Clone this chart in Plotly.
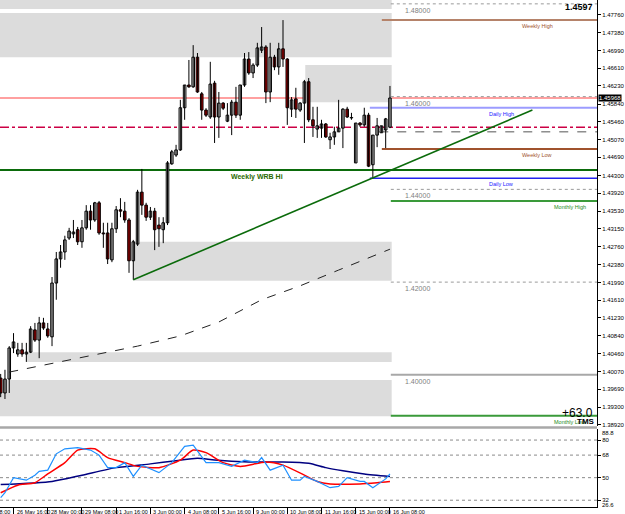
import plotly.graph_objects as go

# ---------------- data ----------------
bar_idx = list(range(92))
opens = [1.3993, 1.3961, 1.3991, 1.4058, 1.4045, 1.4054, 1.4045, 1.4049, 1.4097, 1.4075,
         1.4112, 1.4099, 1.4082, 1.4198, 1.4250, 1.4265, 1.4295, 1.4304, 1.4313, 1.4287,
         1.4317, 1.4353, 1.4334, 1.4371, 1.4306, 1.4306, 1.4248, 1.4315, 1.4356, 1.4353,
         1.4334, 1.4246, 1.4282, 1.4394, 1.4366, 1.4340, 1.4353, 1.4323, 1.4313, 1.4328,
         1.4455, 1.4474, 1.4485, 1.4576, 1.4625, 1.4621, 1.4685, 1.4606, 1.4571, 1.4556,
         1.4629, 1.4556, 1.4586, 1.4547, 1.4560, 1.4588, 1.4560, 1.4625, 1.4681, 1.4651,
         1.4668, 1.4700, 1.4707, 1.4610, 1.4685, 1.4664, 1.4703, 1.4681, 1.4573, 1.4595,
         1.4571, 1.4586, 1.4632, 1.4550, 1.4530, 1.4532, 1.4541, 1.4507, 1.4513, 1.4524,
         1.4532, 1.4573, 1.4554, 1.4457, 1.4543, 1.4539, 1.4560, 1.4453, 1.4517, 1.4522,
         1.4528, 1.4534]
highs = [1.4002, 1.4011, 1.4062, 1.4090, 1.4069, 1.4069, 1.4069, 1.4105, 1.4112, 1.4125,
         1.4123, 1.4112, 1.4211, 1.4265, 1.4280, 1.4300, 1.4317, 1.4334, 1.4319, 1.4334,
         1.4366, 1.4366, 1.4373, 1.4375, 1.4328, 1.4328, 1.4328, 1.4364, 1.4381, 1.4373,
         1.4338, 1.4291, 1.4399, 1.4444, 1.4371, 1.4362, 1.4360, 1.4340, 1.4340, 1.4461,
         1.4485, 1.4496, 1.4593, 1.4625, 1.4679, 1.4711, 1.4694, 1.4610, 1.4575, 1.4675,
         1.4634, 1.4610, 1.4588, 1.4586, 1.4593, 1.4621, 1.4625, 1.4694, 1.4696, 1.4672,
         1.4716, 1.4750, 1.4711, 1.4716, 1.4690, 1.4716, 1.4765, 1.4683, 1.4599, 1.4619,
         1.4588, 1.4636, 1.4640, 1.4578, 1.4578, 1.4550, 1.4543, 1.4522, 1.4535, 1.4593,
         1.4575, 1.4578, 1.4565, 1.4543, 1.4545, 1.4576, 1.4565, 1.4517, 1.4554, 1.4537,
         1.4554, 1.4623]
lows = [1.3952, 1.3948, 1.3961, 1.4047, 1.4039, 1.4039, 1.4028, 1.4047, 1.4071, 1.4036,
        1.4097, 1.4080, 1.4062, 1.4162, 1.4231, 1.4248, 1.4291, 1.4295, 1.4280, 1.4274,
        1.4313, 1.4313, 1.4330, 1.4302, 1.4274, 1.4239, 1.4243, 1.4306, 1.4340, 1.4328,
        1.4220, 1.4205, 1.4278, 1.4345, 1.4332, 1.4334, 1.4269, 1.4276, 1.4284, 1.4323,
        1.4453, 1.4470, 1.4483, 1.4550, 1.4619, 1.4619, 1.4608, 1.4550, 1.4556, 1.4552,
        1.4500, 1.4511, 1.4571, 1.4545, 1.4517, 1.4554, 1.4550, 1.4621, 1.4647, 1.4640,
        1.4664, 1.4694, 1.4586, 1.4588, 1.4657, 1.4647, 1.4664, 1.4539, 1.4556, 1.4554,
        1.4567, 1.4500, 1.4545, 1.4513, 1.4511, 1.4511, 1.4511, 1.4487, 1.4496, 1.4524,
        1.4489, 1.4554, 1.4550, 1.4457, 1.4535, 1.4535, 1.4448, 1.4425, 1.4491, 1.4522,
        1.4489, 1.4532]
closes = [1.3961, 1.3991, 1.4058, 1.4071, 1.4054, 1.4045, 1.4049, 1.4099, 1.4075, 1.4112,
          1.4101, 1.4084, 1.4198, 1.4250, 1.4265, 1.4291, 1.4310, 1.4308, 1.4287, 1.4317,
          1.4353, 1.4334, 1.4371, 1.4306, 1.4304, 1.4250, 1.4315, 1.4356, 1.4353, 1.4334,
          1.4246, 1.4287, 1.4394, 1.4366, 1.4340, 1.4353, 1.4313, 1.4315, 1.4328, 1.4457,
          1.4481, 1.4485, 1.4576, 1.4625, 1.4621, 1.4685, 1.4610, 1.4571, 1.4560, 1.4627,
          1.4556, 1.4586, 1.4575, 1.4560, 1.4588, 1.4560, 1.4625, 1.4681, 1.4651, 1.4668,
          1.4705, 1.4707, 1.4610, 1.4685, 1.4664, 1.4703, 1.4681, 1.4576, 1.4593, 1.4573,
          1.4586, 1.4632, 1.4550, 1.4537, 1.4537, 1.4541, 1.4513, 1.4513, 1.4524, 1.4532,
          1.4573, 1.4556, 1.4555, 1.4543, 1.4539, 1.4560, 1.4450, 1.4517, 1.4537, 1.4537,
          1.4552, 1.4597]

ma_bars = [2, 9, 16, 23, 32, 42, 51, 61, 70, 79, 91]
ma_vals = [1.4006, 1.4019, 1.4032, 1.4045, 1.4062, 1.4084, 1.4114, 1.4162, 1.4192, 1.4226, 1.4271]

trend_bars = [31, 124.3]
trend_vals = [1.4205, 1.4571]

fast_bars = [0, 1, 3, 6, 8, 9, 11, 13, 15, 18, 21, 23, 25, 27, 29, 31, 33, 37, 40, 43, 45, 48,
             51, 54, 57, 60, 61, 63, 66, 68, 70, 71, 74, 77, 79, 81, 84, 85, 87, 89, 90, 91]
fast_vals = [34, 38, 50, 48, 52, 55, 56, 69, 73, 74, 72, 68, 58, 58, 62, 51, 60, 54, 62, 75, 76, 62,
             62, 59, 64, 62, 66, 56, 60, 48, 48, 51, 47, 42, 43, 50, 47, 47, 42, 47, 49, 53]
mid_bars = [0, 4, 8, 11, 15, 18, 22, 25, 29, 32, 37, 42, 45, 48, 52, 56, 62, 66, 71, 74, 77, 84, 88, 91]
mid_vals = [38, 44, 46, 53, 62, 72, 73, 66, 62, 59, 58, 64, 72, 70, 62, 59, 62.5, 60, 52, 47, 45, 45, 46, 47]
slow_bars = [0, 12, 19, 27, 35, 41, 46, 50, 58, 66, 72, 76, 80, 85, 91]
slow_vals = [44.5, 47, 52, 58, 61, 63.5, 65.5, 64, 62.5, 62.5, 61.5, 58, 55.5, 53, 51]

price_ticks = [1.4776, 1.4738, 1.4699, 1.4661, 1.4623, 1.4584, 1.4546, 1.4507, 1.4469, 1.4430,
               1.4392, 1.4353, 1.4315, 1.4276, 1.4238, 1.4199, 1.4161, 1.4123, 1.4084, 1.4046,
               1.4007, 1.3969, 1.3930, 1.3892]
price_tick_text = ["1.47760", "1.47380", "1.46990", "1.46610", "1.46230", "1.45840", "1.45460",
                   "1.45070", "1.44690", "1.44300", "1.43920", "1.43530", "1.43150", "1.42760",
                   "1.42380", "1.41990", "1.41610", "1.41230", "1.40840", "1.40460", "1.40070",
                   "1.39690", "1.39300", "1.38920"]
osc_ticks = [80, 68, 50, 32]
osc_tick_text = ["80", "68", "50", "32"]
osc_edge_text = ["88.8", "26.6"]
osc_levels = [80, 68, 50, 32]

x_tick_bars = [3, 11, 19, 27, 35, 43, 51, 59, 67, 75, 83, 91]
x_tick_labels = ["26 May 16:00", "28 May 00:00", "29 May 08:00", "1 Jun 16:00",
                 "3 Jun 00:00", "4 Jun 08:00", "5 Jun 16:00", "9 Jun 00:00", "10 Jun 08:00",
                 "11 Jun 16:00", "15 Jun 00:00", "16 Jun 08:00"]
prev_tick_label = "25 May 08:00"

# zones: (start bar, end bar, low, high)
zones = [(-2, 91.4, 1.4789, 1.4830), (-2, 91.4, 1.4685, 1.4780), (71.2, 91.4, 1.4588, 1.4668),
         (31, 91.4, 1.4203, 1.4287), (6, 91.4, 1.4028, 1.4049), (-2, 91.4, 1.3911, 1.3989)]

# named levels: (label, price, start bar, color, width, dash, label bar)
level_lines = [
    ("Weekly High", 1.4765, 89.1, "#b5836a", 2, "solid", 121.5),
    ("Daily High", 1.4576, 86.3, "#9c9cff", 2, "solid", 113.8),
    ("Weekly Low", 1.4487, 89.1, "#a0522d", 2, "solid", 121.5),
    ("Daily Low", 1.4424, 86.3, "#2222ee", 1.5, "solid", 113.8),
    ("Monthly High", 1.4375, 91.2, "#3a9a3a", 2, "solid", 128.9),
    ("Monthly Low", 1.3912, 91.2, "#3a9a3a", 2, "solid", 128.9),
]
label_colors = {"Weekly High": "#a0522d", "Daily High": "#1a1aff", "Weekly Low": "#a0522d",
                "Daily Low": "#1a1aff", "Monthly High": "#228b22", "Monthly Low": "#228b22"}
round_levels = [1.48, 1.46, 1.44, 1.42, 1.40]
round_labels = ["1.48000", "1.46000", "1.44000", "1.42000", "1.40000"]
bid_price = 1.4597
wrb_hi = 1.4442
pivot_dashdot = 1.4534
gray_dash = 1.4524
score_price = 1.3918
tms_price = 1.3899

# ---------------- figure ----------------
fig = go.Figure()

# wicks
wx, wy = [], []
for i, h, l in zip(bar_idx, highs, lows):
    wx += [i, i, None]
    wy += [l, h, None]
fig.add_trace(go.Scatter(x=wx, y=wy, mode="lines", line=dict(color="black", width=1),
                         hoverinfo="skip", showlegend=False, xaxis="x", yaxis="y"))
# bodies
body_colors = ["#ff0000" if c < o else "#ffffff" for o, c in zip(opens, closes)]
fig.add_trace(go.Bar(x=bar_idx, y=[max(abs(c - o), 0.00004) for o, c in zip(opens, closes)],
                     base=[min(o, c) for o, c in zip(opens, closes)], width=0.6,
                     marker=dict(color=body_colors, line=dict(color="black", width=1)),
                     hoverinfo="skip", showlegend=False, xaxis="x", yaxis="y"))
# moving average
fig.add_trace(go.Scatter(x=ma_bars, y=ma_vals, mode="lines", line=dict(color="#222222", width=1, dash="dash"),
                         hoverinfo="skip", showlegend=False, xaxis="x", yaxis="y"))
# trend line
fig.add_trace(go.Scatter(x=trend_bars, y=trend_vals, mode="lines", line=dict(color="#0b6b0b", width=1.6),
                         hoverinfo="skip", showlegend=False, xaxis="x", yaxis="y"))

# oscillator
fig.add_trace(go.Scatter(x=slow_bars, y=slow_vals, mode="lines", line=dict(color="#000080", width=1.5, shape="spline", smoothing=0.6),
                         hoverinfo="skip", showlegend=False, xaxis="x2", yaxis="y2"))
fig.add_trace(go.Scatter(x=mid_bars, y=mid_vals, mode="lines", line=dict(color="#ff0000", width=1.5, shape="spline", smoothing=0.6),
                         hoverinfo="skip", showlegend=False, xaxis="x2", yaxis="y2"))
fig.add_trace(go.Scatter(x=fast_bars, y=fast_vals, mode="lines", line=dict(color="#1e90ff", width=1.2),
                         hoverinfo="skip", showlegend=False, xaxis="x2", yaxis="y2"))

shapes = []
for x0, x1, lo, hi in zones:
    shapes.append(dict(type="rect", xref="x", yref="y", x0=x0, x1=x1, y0=lo, y1=hi,
                       fillcolor="#dcdcdc", line=dict(width=0), layer="below"))
for lv in round_levels:
    if lv == 1.40:
        shapes.append(dict(type="line", xref="x", yref="y", x0=91.2, x1=140, y0=lv, y1=lv,
                           line=dict(color="#a8a8a8", width=2), layer="below"))
    else:
        shapes.append(dict(type="line", xref="x", yref="y", x0=91.2, x1=140, y0=lv, y1=lv,
                           line=dict(color="#9a9a9a", width=1, dash="dot"), layer="below"))
shapes.append(dict(type="line", xref="x domain", yref="y", x0=0, x1=1, y0=bid_price, y1=bid_price,
                   line=dict(color="#ff8080", width=1.5), layer="below"))
shapes.append(dict(type="line", xref="x domain", yref="y", x0=0, x1=1, y0=pivot_dashdot, y1=pivot_dashdot,
                   line=dict(color="#cc0044", width=1.5, dash="dashdot"), layer="below"))
shapes.append(dict(type="line", xref="x", yref="y", x0=88.5, x1=140, y0=gray_dash, y1=gray_dash,
                   line=dict(color="#555555", width=1, dash="dash"), layer="below"))
shapes.append(dict(type="line", xref="x domain", yref="y", x0=0, x1=1, y0=wrb_hi, y1=wrb_hi,
                   line=dict(color="#0b6b0b", width=2), layer="below"))
for name, p, xs, col, w, d, lx in level_lines:
    shapes.append(dict(type="line", xref="x", yref="y", x0=xs, x1=140, y0=p, y1=p,
                       line=dict(color=col, width=w, dash=d), layer="below"))
for lv in osc_levels:
    shapes.append(dict(type="line", xref="x2 domain", yref="y2", x0=0, x1=1, y0=lv, y1=lv,
                       line=dict(color="#8a8a8a", width=1, dash="dot"), layer="below"))
# panel separator
shapes.append(dict(type="rect", xref="paper", yref="paper", x0=0, x1=1, y0=0.1545, y1=0.1595,
                   fillcolor="#a8a8a8", line=dict(width=0)))

small = dict(family="Liberation Sans", size=6, color="black")
annotations = []
for lv, txt in zip(round_levels, round_labels):
    annotations.append(dict(x=94, y=lv, xref="x", yref="y", text=txt, showarrow=False,
                            xanchor="left", yanchor="top", yshift=-1,
                            font=dict(family="Liberation Sans", size=7, color="#808080")))
for name, p, xs, col, w, d, lx in level_lines:
    annotations.append(dict(x=lx, y=p, xref="x", yref="y", text=name, showarrow=False,
                            xanchor="left", yanchor="top", yshift=-1,
                            font=dict(family="Liberation Sans", size=5.5, color=label_colors[name])))
annotations.append(dict(x=53.3, y=wrb_hi, xref="x", yref="y", text="<b>Weekly WRB Hi</b>", showarrow=False,
                        xanchor="left", yanchor="top", yshift=-1,
                        font=dict(family="Liberation Sans", size=7, color="#2a6a00")))
annotations.append(dict(x=0.997, y=1.0, xref="paper", yref="paper", text="<b>1.4597</b>", showarrow=False,
                        xanchor="right", yanchor="top", font=dict(family="Liberation Sans", size=9, color="black")))
annotations.append(dict(x=0.997, y=score_price, xref="paper", yref="y", text="+63.0", showarrow=False,
                        xanchor="right", yanchor="middle", font=dict(family="Liberation Sans", size=12, color="black")))
annotations.append(dict(x=1.0, y=tms_price, xref="paper", yref="y", text="<b>TMS</b>", showarrow=False,
                        xanchor="right", yanchor="middle", font=dict(family="Liberation Sans", size=8, color="black")))
annotations.append(dict(x=1.0, y=bid_price, xref="paper", yref="y", text="1.45968", showarrow=False,
                        xanchor="left", yanchor="middle", xshift=1, bgcolor="black", borderpad=0,
                        font=dict(family="Liberation Sans", size=6, color="white")))
# oscillator scale edge labels (MT4 draws them just inside the panel)
annotations.append(dict(x=1.0, y=1.0, xref="paper", yref="y2 domain", text=osc_edge_text[0], showarrow=False,
                        xanchor="left", yanchor="top", xshift=3, yshift=1, font=small))
annotations.append(dict(x=1.0, y=0.0, xref="paper", yref="y2 domain", text=osc_edge_text[1], showarrow=False,
                        xanchor="left", yanchor="bottom", xshift=3, yshift=-3, font=small))
for b, t in zip(x_tick_bars, x_tick_labels):
    annotations.append(dict(x=b, y=0, xref="x2", yref="paper", text=t, showarrow=False,
                            xanchor="left", yanchor="top", xshift=1, yshift=0,
                            font=dict(family="Liberation Sans", size=5.5, color="black")))
annotations.append(dict(x=x_tick_bars[0], y=0, xref="x2", yref="paper", text=prev_tick_label, showarrow=False,
                        xanchor="right", yanchor="top", xshift=-2, yshift=0,
                        font=dict(family="Liberation Sans", size=5.5, color="black")))

x_range = [-0.16, 139.4]
fig.update_layout(
    width=625, height=514,
    margin=dict(l=0, r=25, t=0, b=7),
    paper_bgcolor="white", plot_bgcolor="white",
    barmode="overlay", showlegend=False,
    xaxis=dict(domain=[0, 1], range=x_range, anchor="y", showticklabels=False, showgrid=False,
               zeroline=False, ticks="", showline=False),
    xaxis2=dict(domain=[0, 1], range=x_range, anchor="y2", showticklabels=False, showgrid=False,
                zeroline=False, ticks="outside", ticklen=6, tickcolor="black", tickwidth=1,
                tickvals=x_tick_bars, showline=True, linecolor="black", linewidth=1),
    yaxis=dict(domain=[0.1598, 1], range=[1.38898, 1.48083], side="right", anchor="x",
               showgrid=False, zeroline=False, showline=True, linecolor="black", linewidth=1,
               ticks="outside", ticklen=3, tickcolor="black", tickvals=price_ticks, ticktext=price_tick_text,
               tickfont=small),
    yaxis2=dict(domain=[0, 0.1538], range=[26.6, 88.8], side="right", anchor="x2",
                showgrid=False, zeroline=False, showline=True, linecolor="black", linewidth=1,
                ticks="outside", ticklen=3, tickcolor="black", tickvals=osc_ticks, ticktext=osc_tick_text,
                tickfont=small),
    shapes=shapes, annotations=annotations,
)

fig.write_html("out.html")
